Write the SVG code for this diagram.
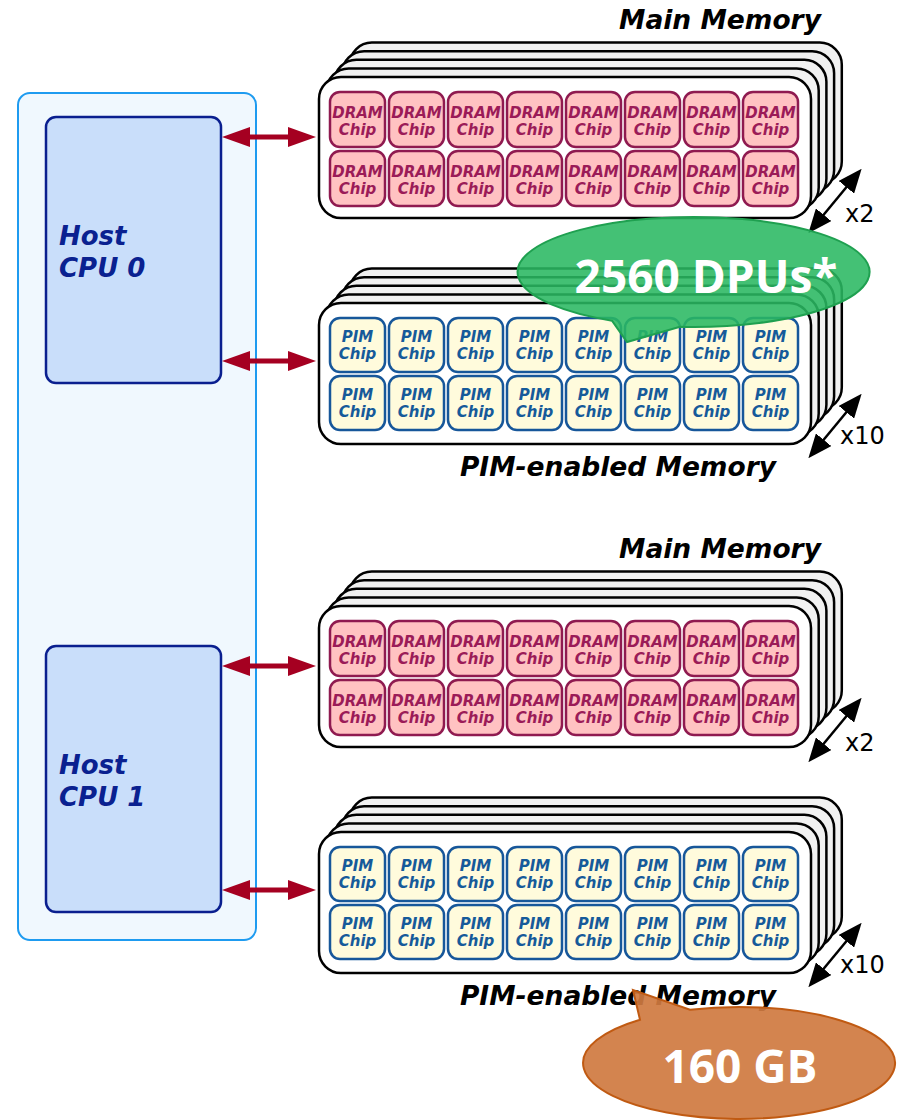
<svg xmlns="http://www.w3.org/2000/svg" xmlns:xlink="http://www.w3.org/1999/xlink" width="901" height="1120" viewBox="0 0 901 1120">
<style>
.back{fill:#f1f1f1;stroke:#000;stroke-width:2.5}
.front{fill:#fff;stroke:#000;stroke-width:2.5}
.dram{fill:#ffc2c2;stroke:#8f1a50;stroke-width:2.5}
.pim{fill:#fffbdc;stroke:#17579a;stroke-width:2.5}
.ct{font-family:"DejaVu Sans",Verdana,sans-serif;font-weight:bold;font-style:italic;font-size:15px;text-anchor:middle}
.dt{fill:#9b1b58}
.pt{fill:#165a9a}
.host{fill:#c9defa;stroke:#0a1f8f;stroke-width:2.5}
.ht{font-family:"DejaVu Sans",Verdana,sans-serif;font-weight:bold;font-style:italic;font-size:26px;fill:#0a2190}
.lbl{font-family:"DejaVu Sans",Verdana,sans-serif;font-weight:bold;font-style:italic;font-size:26.5px;fill:#000}
.cnt{font-family:"DejaVu Sans",Verdana,sans-serif;font-size:24px;fill:#000}
.bus{stroke:#a50021;stroke-width:5;fill:none}
.mult{stroke:#000;stroke-width:2.5;fill:none}
.call{font-family:"Open Sans","Noto Sans",sans-serif;font-weight:bold;font-size:46px;fill:#fff;text-anchor:middle}
</style>
<defs>
<marker id="redHead" markerUnits="userSpaceOnUse" markerWidth="28" markerHeight="20" viewBox="0 0 28 20" refX="14" refY="10" orient="auto-start-reverse">
<path d="M0,0 L28,10 L0,20 Z" fill="#a50021"/>
</marker>
<marker id="blkHead" markerUnits="userSpaceOnUse" markerWidth="24" markerHeight="20" viewBox="0 0 24 20" refX="12" refY="10" orient="auto-start-reverse">
<path d="M0,0 L24,10 L0,20 Z" fill="#000"/>
</marker>
<g id="dramChip">
<rect class="dram" x="0" y="0" width="55" height="55" rx="10"/>
<text class="ct dt" x="27.5" y="26">DRAM</text>
<text class="ct dt" x="27.5" y="43">Chip</text>
</g>
<g id="pimChip">
<rect class="pim" x="0" y="0" width="55" height="54" rx="10"/>
<text class="ct pt" x="27.5" y="24">PIM</text>
<text class="ct pt" x="27.5" y="41">Chip</text>
</g>
<g id="boards">
<rect class="back" x="349.8" y="-34.4" width="492" height="141" rx="22"/>
<rect class="back" x="342.1" y="-25.8" width="492" height="141" rx="22"/>
<rect class="back" x="334.4" y="-17.2" width="492" height="141" rx="22"/>
<rect class="back" x="326.7" y="-8.6" width="492" height="141" rx="22"/>
<rect class="front" x="319" y="0" width="492" height="141" rx="22"/>
</g>
</defs>

<g id="host-system">
<rect x="18" y="93" width="238" height="847" rx="12" fill="#f0f8fe" stroke="#1e9bf0" stroke-width="2"/>
</g>
<g id="cpu0">
<rect class="host" x="46" y="117" width="175" height="266" rx="10"/>
<text class="ht" x="59" y="245">Host</text>
<text class="ht" x="59" y="277">CPU 0</text>
</g>
<g id="cpu1">
<rect class="host" x="46" y="646" width="175" height="266" rx="10"/>
<text class="ht" x="59" y="774">Host</text>
<text class="ht" x="59" y="806">CPU 1</text>
</g>

<g id="main-memory-0">
<text class="lbl" x="720" y="29" text-anchor="middle">Main Memory</text>
<use href="#boards" y="77"/>
<g transform="translate(0,92)">
<use href="#dramChip" x="330"/><use href="#dramChip" x="389"/><use href="#dramChip" x="448"/><use href="#dramChip" x="507"/><use href="#dramChip" x="566"/><use href="#dramChip" x="625"/><use href="#dramChip" x="684"/><use href="#dramChip" x="743"/>
</g>
<g transform="translate(0,151)">
<use href="#dramChip" x="330"/><use href="#dramChip" x="389"/><use href="#dramChip" x="448"/><use href="#dramChip" x="507"/><use href="#dramChip" x="566"/><use href="#dramChip" x="625"/><use href="#dramChip" x="684"/><use href="#dramChip" x="743"/>
</g>
<line class="mult" x1="816" y1="224" x2="854" y2="178" marker-start="url(#blkHead)" marker-end="url(#blkHead)"/>
<text class="cnt" x="845" y="222">x2</text>
</g>

<g id="pim-memory-0">
<use href="#boards" y="303"/>
<g transform="translate(0,318)">
<use href="#pimChip" x="330"/><use href="#pimChip" x="389"/><use href="#pimChip" x="448"/><use href="#pimChip" x="507"/><use href="#pimChip" x="566"/><use href="#pimChip" x="625"/><use href="#pimChip" x="684"/><use href="#pimChip" x="743"/>
</g>
<g transform="translate(0,376)">
<use href="#pimChip" x="330"/><use href="#pimChip" x="389"/><use href="#pimChip" x="448"/><use href="#pimChip" x="507"/><use href="#pimChip" x="566"/><use href="#pimChip" x="625"/><use href="#pimChip" x="684"/><use href="#pimChip" x="743"/>
</g>
<line class="mult" x1="816" y1="449" x2="854" y2="403" marker-start="url(#blkHead)" marker-end="url(#blkHead)"/>
<text class="cnt" x="840" y="444">x10</text>
<text class="lbl" x="618" y="476" text-anchor="middle">PIM-enabled Memory</text>
</g>

<g id="main-memory-1">
<text class="lbl" x="720" y="558" text-anchor="middle">Main Memory</text>
<use href="#boards" y="606"/>
<g transform="translate(0,621)">
<use href="#dramChip" x="330"/><use href="#dramChip" x="389"/><use href="#dramChip" x="448"/><use href="#dramChip" x="507"/><use href="#dramChip" x="566"/><use href="#dramChip" x="625"/><use href="#dramChip" x="684"/><use href="#dramChip" x="743"/>
</g>
<g transform="translate(0,680)">
<use href="#dramChip" x="330"/><use href="#dramChip" x="389"/><use href="#dramChip" x="448"/><use href="#dramChip" x="507"/><use href="#dramChip" x="566"/><use href="#dramChip" x="625"/><use href="#dramChip" x="684"/><use href="#dramChip" x="743"/>
</g>
<line class="mult" x1="816" y1="753" x2="854" y2="707" marker-start="url(#blkHead)" marker-end="url(#blkHead)"/>
<text class="cnt" x="845" y="751">x2</text>
</g>

<g id="pim-memory-1">
<use href="#boards" y="832"/>
<g transform="translate(0,847)">
<use href="#pimChip" x="330"/><use href="#pimChip" x="389"/><use href="#pimChip" x="448"/><use href="#pimChip" x="507"/><use href="#pimChip" x="566"/><use href="#pimChip" x="625"/><use href="#pimChip" x="684"/><use href="#pimChip" x="743"/>
</g>
<g transform="translate(0,905)">
<use href="#pimChip" x="330"/><use href="#pimChip" x="389"/><use href="#pimChip" x="448"/><use href="#pimChip" x="507"/><use href="#pimChip" x="566"/><use href="#pimChip" x="625"/><use href="#pimChip" x="684"/><use href="#pimChip" x="743"/>
</g>
<line class="mult" x1="816" y1="978" x2="854" y2="932" marker-start="url(#blkHead)" marker-end="url(#blkHead)"/>
<text class="cnt" x="840" y="973">x10</text>
<text class="lbl" x="618" y="1005" text-anchor="middle">PIM-enabled Memory</text>
</g>

<g id="connectors">
<line class="bus" x1="236" y1="137" x2="302" y2="137" marker-start="url(#redHead)" marker-end="url(#redHead)"/>
<line class="bus" x1="236" y1="361" x2="302" y2="361" marker-start="url(#redHead)" marker-end="url(#redHead)"/>
<line class="bus" x1="236" y1="666" x2="302" y2="666" marker-start="url(#redHead)" marker-end="url(#redHead)"/>
<line class="bus" x1="236" y1="890" x2="302" y2="890" marker-start="url(#redHead)" marker-end="url(#redHead)"/>
</g>

<g id="callout-dpus">
<path d="M612,320.7 L627,342 L680,326.8 A176,55 0 1 0 612,320.7 Z" fill="#2ab862" fill-opacity="0.88" stroke="#1fa050" stroke-width="2"/>
<text class="call" x="706" y="293">2560 DPUs*</text>
</g>

<g id="callout-capacity">
<path d="M640,1019.7 L633,990 L690,1009.8 A156,56 0 1 1 640,1019.7 Z" fill="#cf7a40" fill-opacity="0.92" stroke="#c05a12" stroke-width="2"/>
<text class="call" x="740" y="1083">160 GB</text>
</g>
</svg>
